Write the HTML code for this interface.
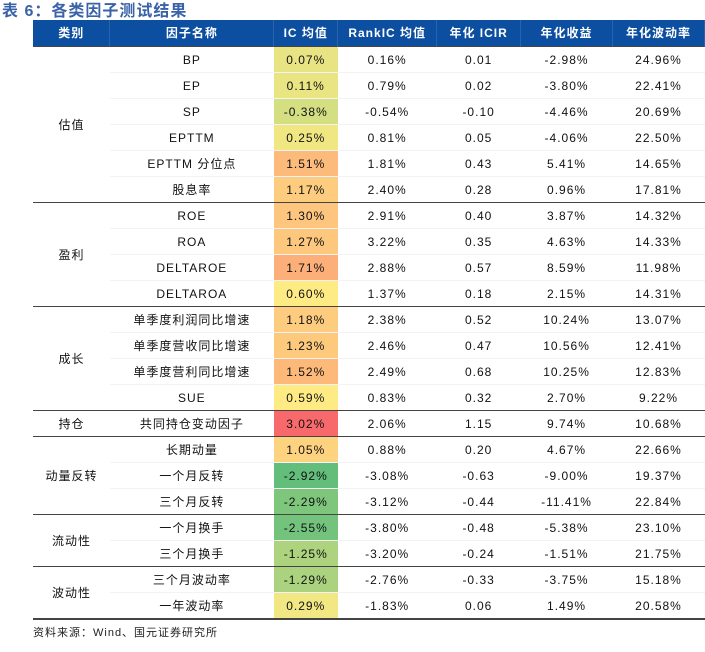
<!DOCTYPE html>
<html><head><meta charset="utf-8"><style>
body{margin:0;width:705px;height:652px;background:#fff;position:relative;overflow:hidden;font-family:"Liberation Sans","Noto Sans CJK SC",sans-serif;}
#title{position:absolute;left:2px;top:-3px;font-size:16px;font-weight:bold;color:#3a62a8;letter-spacing:1px;}
table{position:absolute;left:33px;top:20px;border-collapse:collapse;table-layout:fixed;font-size:12px;color:#111;border-bottom:2px solid #444;}
td,th{text-align:center;padding:0;letter-spacing:1px;line-height:14px;}
td{height:25px;border-top:1px solid #f3f3f3;}
th{background:#0c4ea0;color:#fff;font-weight:bold;height:26px;border-right:1px solid #2a63ad;}
tr.sep td{border-top:1px solid #444;}
td.cat{border-bottom:2px solid #444;}
#src{position:absolute;left:33px;top:624px;font-size:11px;color:#222;letter-spacing:1px;}
</style></head><body>
<div id="title">表 6：各类因子测试结果</div>
<table id="t">
<colgroup><col style="width:77px"><col style="width:164px"><col style="width:64px"><col style="width:99px"><col style="width:84px"><col style="width:92px"><col style="width:92px"></colgroup>
<tr><th>类别</th><th>因子名称</th><th>IC 均值</th><th>RankIC 均值</th><th>年化 ICIR</th><th>年化收益</th><th>年化波动率</th></tr>
</table>
<div id="src">资料来源：Wind、国元证券研究所</div>
<script>
const groups=[["估值",6],["盈利",4],["成长",4],["持仓",1],["动量反转",3],["流动性",2],["波动性",2]];
const names=["BP","EP","SP","EPTTM","EPTTM 分位点","股息率","ROE","ROA","DELTAROE","DELTAROA","单季度利润同比增速","单季度营收同比增速","单季度营利同比增速","SUE","共同持仓变动因子","长期动量","一个月反转","三个月反转","一个月换手","三个月换手","三个月波动率","一年波动率"];
const ic=[0.07,0.11,-0.38,0.25,1.51,1.17,1.30,1.27,1.71,0.60,1.18,1.23,1.52,0.59,3.02,1.05,-2.92,-2.29,-2.55,-1.25,-1.29,0.29];
const rankic=[0.16,0.79,-0.54,0.81,1.81,2.40,2.91,3.22,2.88,1.37,2.38,2.46,2.49,0.83,2.06,0.88,-3.08,-3.12,-3.80,-3.20,-2.76,-1.83];
const icir=[0.01,0.02,-0.10,0.05,0.43,0.28,0.40,0.35,0.57,0.18,0.52,0.47,0.68,0.32,1.15,0.20,-0.63,-0.44,-0.48,-0.24,-0.33,0.06];
const ret=[-2.98,-3.80,-4.46,-4.06,5.41,0.96,3.87,4.63,8.59,2.15,10.24,10.56,10.25,2.70,9.74,4.67,-9.00,-11.41,-5.38,-1.51,-3.75,1.49];
const vol=[24.96,22.41,20.69,22.50,14.65,17.81,14.32,14.33,11.98,14.31,13.07,12.41,12.83,9.22,10.68,22.66,19.37,22.84,23.10,21.75,15.18,20.58];
const sorted=[...ic].sort((a,b)=>a-b);const mid=(sorted[10]+sorted[11])/2,mn=sorted[0],mx=sorted[sorted.length-1];
function mix(a,b,t){return a.map((v,i)=>Math.round(v+(b[i]-v)*t));}
function col(v){const G=[99,190,123],Y=[255,235,132],R=[248,105,107];const c=v<=mid?mix(G,Y,(v-mn)/(mid-mn)):mix(Y,R,(v-mid)/(mx-mid));return `rgb(${c})`;}
const t=document.getElementById('t');let i=0;
groups.forEach((g,gi)=>{for(let k=0;k<g[1];k++,i++){const tr=document.createElement('tr');


if(k===0)tr.className='sep';
let h='';if(k===0)h+=`<td rowspan="${g[1]}" class="${gi===groups.length-1?'cat':''}">${g[0]}</td>`;
h+=`<td>${names[i]}</td><td style="background:${col(ic[i])}">${ic[i].toFixed(2)}%</td><td>${rankic[i].toFixed(2)}%</td><td>${icir[i].toFixed(2)}</td><td>${ret[i].toFixed(2)}%</td><td>${vol[i].toFixed(2)}%</td>`;
tr.innerHTML=h;t.appendChild(tr);}});
</script>
</body></html>
